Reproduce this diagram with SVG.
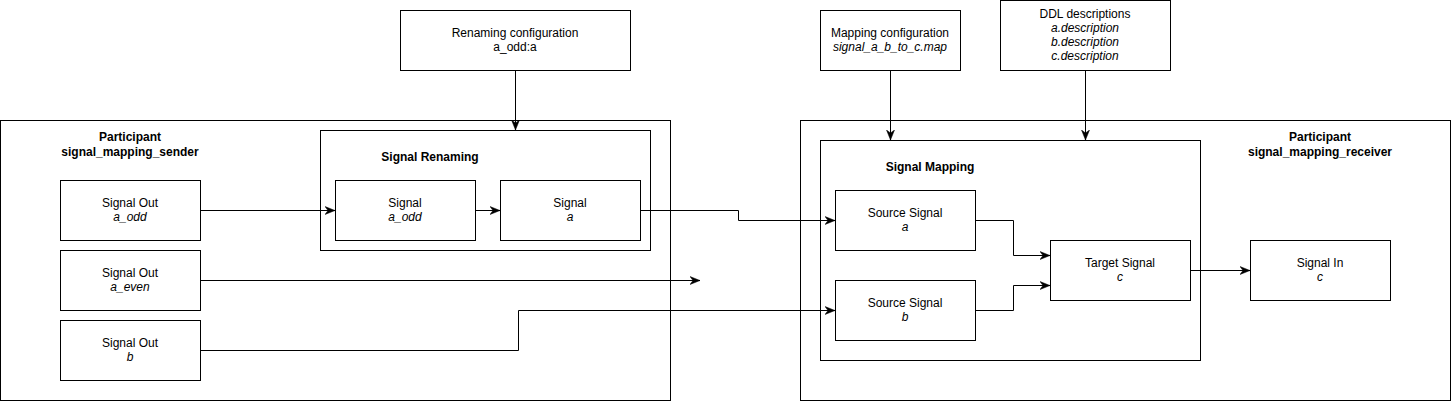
<svg xmlns="http://www.w3.org/2000/svg" width="1451" height="401" viewBox="0 0 1451 401">
<style>
rect{fill:#fff;stroke:#000;stroke-width:1}
text{font-family:"Liberation Sans",Arial,sans-serif;font-size:12px;fill:#000;text-anchor:middle}
.b{font-weight:bold}
.i{font-style:italic}
.c path{fill:none;stroke:#000;stroke-width:1}
</style>
<defs>
<marker id="ar" viewBox="0 0 10 10" refX="10" refY="5" markerWidth="10" markerHeight="10" markerUnits="userSpaceOnUse" orient="auto">
<path d="M0,1 L10,5 L0,9 L3,5 Z" fill="#000" stroke="#000" stroke-width="0.5"/>
</marker>
</defs>
<rect width="1451" height="401" style="stroke:none"/>
<g id="sender">
<rect x="0.5" y="120.5" width="670" height="280"/>
<text class="b" x="130" y="141">Participant</text>
<text class="b" x="130" y="156">signal_mapping_sender</text>
</g>
<g id="receiver">
<rect x="800.5" y="120.5" width="650" height="280"/>
<text class="b" x="1320" y="141">Participant</text>
<text class="b" x="1320" y="156">signal_mapping_receiver</text>
</g>
<g id="renaming">
<rect x="320.5" y="130.5" width="330" height="120"/>
<text class="b" x="430" y="161">Signal Renaming</text>
</g>
<g id="mapping">
<rect x="820.5" y="140.5" width="380" height="220"/>
<text class="b" x="930" y="171">Signal Mapping</text>
</g>
<g id="renamecfg">
<rect x="400.5" y="10.5" width="230" height="60"/>
<text x="515" y="37">Renaming configuration</text>
<text x="515" y="51">a_odd:a</text>
</g>
<g id="mapcfg">
<rect x="820.5" y="10.5" width="140" height="60"/>
<text x="890" y="37">Mapping configuration</text>
<text class="i" x="890" y="51">signal_a_b_to_c.map</text>
</g>
<g id="ddl">
<rect x="1000.5" y="0.5" width="170" height="70"/>
<text x="1085" y="18">DDL descriptions</text>
<text class="i" x="1085" y="32">a.description</text>
<text class="i" x="1085" y="46">b.description</text>
<text class="i" x="1085" y="60">c.description</text>
</g>
<g id="out_a_odd">
<rect x="60.5" y="180.5" width="140" height="60"/>
<text x="130" y="207">Signal Out</text>
<text class="i" x="130" y="221">a_odd</text>
</g>
<g id="out_a_even">
<rect x="60.5" y="250.5" width="140" height="60"/>
<text x="130" y="277">Signal Out</text>
<text class="i" x="130" y="291">a_even</text>
</g>
<g id="out_b">
<rect x="60.5" y="320.5" width="140" height="60"/>
<text x="130" y="347">Signal Out</text>
<text class="i" x="130" y="361">b</text>
</g>
<g id="sig_a_odd">
<rect x="335.5" y="180.5" width="140" height="60"/>
<text x="405" y="207">Signal</text>
<text class="i" x="405" y="221">a_odd</text>
</g>
<g id="sig_a">
<rect x="500.5" y="180.5" width="140" height="60"/>
<text x="570" y="207">Signal</text>
<text class="i" x="570" y="221">a</text>
</g>
<g id="src_a">
<rect x="835.5" y="190.5" width="140" height="60"/>
<text x="905" y="217">Source Signal</text>
<text class="i" x="905" y="231">a</text>
</g>
<g id="src_b">
<rect x="835.5" y="280.5" width="140" height="60"/>
<text x="905" y="307">Source Signal</text>
<text class="i" x="905" y="321">b</text>
</g>
<g id="target_c">
<rect x="1050.5" y="240.5" width="140" height="60"/>
<text x="1120" y="267">Target Signal</text>
<text class="i" x="1120" y="281">c</text>
</g>
<g id="in_c">
<rect x="1250.5" y="240.5" width="140" height="60"/>
<text x="1320" y="267">Signal In</text>
<text class="i" x="1320" y="281">c</text>
</g>
<g class="c" id="connectors">
<path d="M200,210.5 H335" marker-end="url(#ar)"/>
<path d="M475,210.5 H500" marker-end="url(#ar)"/>
<path d="M640,210.5 H738.5 V220.5 H835" marker-end="url(#ar)"/>
<path d="M200,280.5 H700" marker-end="url(#ar)"/>
<path d="M200,350.5 H518.5 V310.5 H835" marker-end="url(#ar)"/>
<path d="M975,220.5 H1013.5 V255.5 H1050" marker-end="url(#ar)"/>
<path d="M975,310.5 H1013.5 V285.5 H1050" marker-end="url(#ar)"/>
<path d="M1190,270.5 H1250" marker-end="url(#ar)"/>
<path d="M515.5,70 V130" marker-end="url(#ar)"/>
<path d="M890.5,70 V140" marker-end="url(#ar)"/>
<path d="M1085.5,70 V140" marker-end="url(#ar)"/>
</g>
</svg>
